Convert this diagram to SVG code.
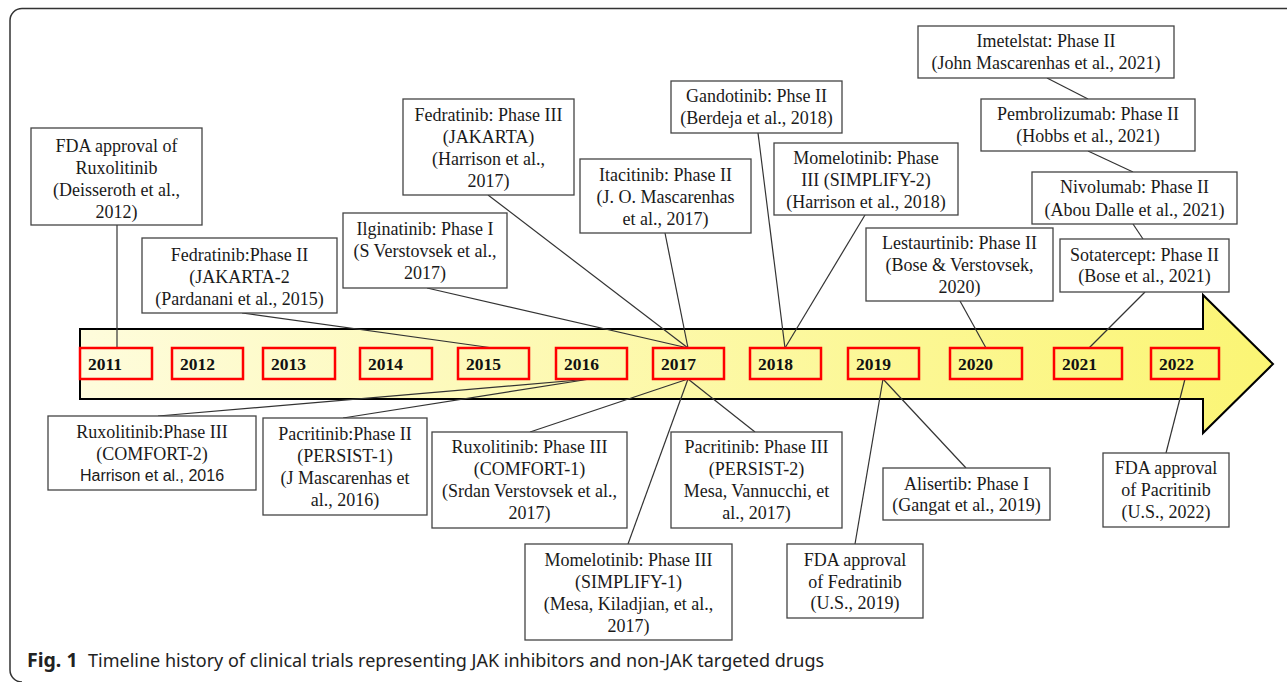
<svg xmlns="http://www.w3.org/2000/svg" width="1287" height="682" viewBox="0 0 1287 682">
<defs>
<linearGradient id="ag" gradientUnits="userSpaceOnUse" x1="80" y1="0" x2="1273" y2="0">
<stop offset="0" stop-color="#fefcdc"/>
<stop offset="1" stop-color="#fbf574"/>
</linearGradient>
<style>
.box{fill:#fff;stroke:#444;stroke-width:1.3}
.yr{fill:none;stroke:#f00;stroke-width:2.5}
.t{font-family:"Liberation Serif","Times New Roman",serif;font-size:18px;fill:#1a1a1a;text-anchor:middle}
.ts{font-family:"Liberation Sans",Arial,sans-serif;font-size:16px;fill:#1a1a1a;text-anchor:middle}
.y{font-family:"Liberation Serif","Times New Roman",serif;font-size:17.5px;font-weight:bold;fill:#111}
.c line{stroke:#333;stroke-width:1.2}
.cap{font-family:"Noto Sans","Open Sans",sans-serif;font-size:18px;fill:#222}
</style>
</defs>
<rect width="1287" height="682" fill="#fff"/>
<path d="M1287,8.5 H22 A12,12 0 0 0 10,20.5 V670 A12,12 0 0 0 22,682" fill="none" stroke="#333" stroke-width="1.5"/>

<g id="timeline-arrow">
<path d="M80,329 H1203 V295 L1273,364 L1203,433 V399 H80 Z" fill="url(#ag)" stroke="#000" stroke-width="2"/>
</g>

<g id="connectors" class="c">
<line x1="117" y1="225" x2="117" y2="348"/>
<line x1="242" y1="313" x2="493" y2="348"/>
<line x1="427" y1="288" x2="688" y2="348"/>
<line x1="488" y1="195" x2="688" y2="348"/>
<line x1="665" y1="233" x2="688" y2="348"/>
<line x1="758" y1="133" x2="785" y2="348"/>
<line x1="865" y1="215" x2="785" y2="348"/>
<line x1="1047" y1="78" x2="1088" y2="99"/>
<line x1="1088" y1="151" x2="1133" y2="172"/>
<line x1="1133" y1="224" x2="1143" y2="239"/>
<line x1="960" y1="301" x2="986" y2="348"/>
<line x1="1145" y1="292" x2="1089" y2="348"/>
<line x1="158" y1="416" x2="590" y2="379"/>
<line x1="343" y1="418" x2="590" y2="379"/>
<line x1="530" y1="432" x2="688" y2="379"/>
<line x1="755" y1="432" x2="688" y2="379"/>
<line x1="628" y1="544" x2="688" y2="379"/>
<line x1="855" y1="544" x2="883" y2="379"/>
<line x1="966" y1="468" x2="883" y2="379"/>
<line x1="1166" y1="453" x2="1185" y2="379"/>
</g>

<g id="years">
<g id="y2011"><rect class="yr" x="80" y="348" width="72" height="31"/><text class="y" x="88" y="370">2011</text></g>
<g id="y2012"><rect class="yr" x="172" y="348" width="71" height="31"/><text class="y" x="180" y="370">2012</text></g>
<g id="y2013"><rect class="yr" x="263" y="348" width="72" height="31"/><text class="y" x="271" y="370">2013</text></g>
<g id="y2014"><rect class="yr" x="360" y="348" width="72" height="31"/><text class="y" x="368" y="370">2014</text></g>
<g id="y2015"><rect class="yr" x="458" y="348" width="71" height="31"/><text class="y" x="466" y="370">2015</text></g>
<g id="y2016"><rect class="yr" x="556" y="348" width="71" height="31"/><text class="y" x="564" y="370">2016</text></g>
<g id="y2017"><rect class="yr" x="653" y="348" width="71" height="31"/><text class="y" x="661" y="370">2017</text></g>
<g id="y2018"><rect class="yr" x="750" y="348" width="71" height="31"/><text class="y" x="758" y="370">2018</text></g>
<g id="y2019"><rect class="yr" x="848" y="348" width="71" height="31"/><text class="y" x="856" y="370">2019</text></g>
<g id="y2020"><rect class="yr" x="950" y="348" width="72" height="31"/><text class="y" x="958" y="370">2020</text></g>
<g id="y2021"><rect class="yr" x="1054" y="348" width="68" height="31"/><text class="y" x="1062" y="370">2021</text></g>
<g id="y2022"><rect class="yr" x="1151" y="348" width="68" height="31"/><text class="y" x="1159" y="370">2022</text></g>
</g>

<g id="n1"><rect class="box" x="31" y="128" width="171" height="97"/>
<text class="t" x="116.5" y="152">FDA approval of</text><text class="t" x="116.5" y="174">Ruxolitinib</text><text class="t" x="116.5" y="196">(Deisseroth et al.,</text><text class="t" x="116.5" y="218">2012)</text></g>

<g id="n2"><rect class="box" x="142" y="238" width="195" height="75"/>
<text class="t" x="239.5" y="261">Fedratinib:Phase II</text><text class="t" x="239.5" y="283">(JAKARTA-2</text><text class="t" x="239.5" y="305">(Pardanani et al., 2015)</text></g>

<g id="n3"><rect class="box" x="343" y="213" width="164" height="75"/>
<text class="t" x="425" y="235">Ilginatinib: Phase I</text><text class="t" x="425" y="257">(S Verstovsek et al.,</text><text class="t" x="425" y="279">2017)</text></g>

<g id="n4"><rect class="box" x="403" y="99" width="171" height="96"/>
<text class="t" x="488.5" y="121">Fedratinib: Phase III</text><text class="t" x="488.5" y="143">(JAKARTA)</text><text class="t" x="488.5" y="165">(Harrison et al.,</text><text class="t" x="488.5" y="187">2017)</text></g>

<g id="n5"><rect class="box" x="580" y="159" width="171" height="74"/>
<text class="t" x="665.5" y="181">Itacitinib: Phase II</text><text class="t" x="665.5" y="203">(J. O. Mascarenhas</text><text class="t" x="665.5" y="225">et al., 2017)</text></g>

<g id="n6"><rect class="box" x="671" y="81" width="171" height="52"/>
<text class="t" x="756.5" y="102">Gandotinib: Phse II</text><text class="t" x="756.5" y="124">(Berdeja et al., 2018)</text></g>

<g id="n7"><rect class="box" x="774" y="143" width="184" height="72"/>
<text class="t" x="866" y="164">Momelotinib: Phase</text><text class="t" x="866" y="186">III (SIMPLIFY-2)</text><text class="t" x="866" y="208">(Harrison et al., 2018)</text></g>

<g id="n8"><rect class="box" x="918" y="26" width="256" height="52"/>
<text class="t" x="1046" y="47">Imetelstat: Phase II</text><text class="t" x="1046" y="69">(John Mascarenhas et al., 2021)</text></g>

<g id="n9"><rect class="box" x="981" y="99" width="214" height="52"/>
<text class="t" x="1088" y="120">Pembrolizumab: Phase II</text><text class="t" x="1088" y="142">(Hobbs et al., 2021)</text></g>

<g id="n10"><rect class="box" x="1032" y="172" width="205" height="52"/>
<text class="t" x="1134.5" y="193">Nivolumab: Phase II</text><text class="t" x="1134.5" y="216">(Abou Dalle et al., 2021)</text></g>

<g id="n11"><rect class="box" x="866" y="228" width="187" height="73"/>
<text class="t" x="959.5" y="249">Lestaurtinib: Phase II</text><text class="t" x="959.5" y="271">(Bose &amp; Verstovsek,</text><text class="t" x="959.5" y="293">2020)</text></g>

<g id="n12"><rect class="box" x="1060" y="239" width="169" height="53"/>
<text class="t" x="1144.5" y="261">Sotatercept: Phase II</text><text class="t" x="1144.5" y="282">(Bose et al., 2021)</text></g>

<g id="n13"><rect class="box" x="48" y="416" width="208" height="74"/>
<text class="t" x="152" y="438">Ruxolitinib:Phase III</text><text class="t" x="152" y="460">(COMFORT-2)</text><text class="ts" x="152" y="481">Harrison et al., 2016</text></g>

<g id="n14"><rect class="box" x="263" y="418" width="164" height="97"/>
<text class="t" x="345" y="440">Pacritinib:Phase II</text><text class="t" x="345" y="462">(PERSIST-1)</text><text class="t" x="345" y="484">(J Mascarenhas et</text><text class="t" x="345" y="506">al., 2016)</text></g>

<g id="n15"><rect class="box" x="432" y="432" width="195" height="96"/>
<text class="t" x="529.5" y="453">Ruxolitinib: Phase III</text><text class="t" x="529.5" y="475">(COMFORT-1)</text><text class="t" x="529.5" y="497">(Srdan Verstovsek et al.,</text><text class="t" x="529.5" y="519">2017)</text></g>

<g id="n16"><rect class="box" x="671" y="432" width="171" height="96"/>
<text class="t" x="756.5" y="453">Pacritinib: Phase III</text><text class="t" x="756.5" y="475">(PERSIST-2)</text><text class="t" x="756.5" y="497">Mesa, Vannucchi, et</text><text class="t" x="756.5" y="519">al., 2017)</text></g>

<g id="n17"><rect class="box" x="525" y="544" width="207" height="96"/>
<text class="t" x="628.5" y="566">Momelotinib: Phase III</text><text class="t" x="628.5" y="588">(SIMPLIFY-1)</text><text class="t" x="628.5" y="610">(Mesa, Kiladjian, et al.,</text><text class="t" x="628.5" y="632">2017)</text></g>

<g id="n18"><rect class="box" x="787" y="544" width="136" height="74"/>
<text class="t" x="855" y="566">FDA approval</text><text class="t" x="855" y="588">of Fedratinib</text><text class="t" x="855" y="609">(U.S., 2019)</text></g>

<g id="n19"><rect class="box" x="883" y="468" width="167" height="52"/>
<text class="t" x="966.5" y="490">Alisertib: Phase I</text><text class="t" x="966.5" y="511">(Gangat et al., 2019)</text></g>

<g id="n20"><rect class="box" x="1103" y="453" width="126" height="74"/>
<text class="t" x="1166" y="474">FDA approval</text><text class="t" x="1166" y="496">of Pacritinib</text><text class="t" x="1166" y="518">(U.S., 2022)</text></g>

<text class="cap" x="27" y="667"><tspan font-weight="bold" font-size="19.5">Fig. 1</tspan><tspan x="88">Timeline history of clinical trials representing JAK inhibitors and non-JAK targeted drugs</tspan></text>
</svg>
